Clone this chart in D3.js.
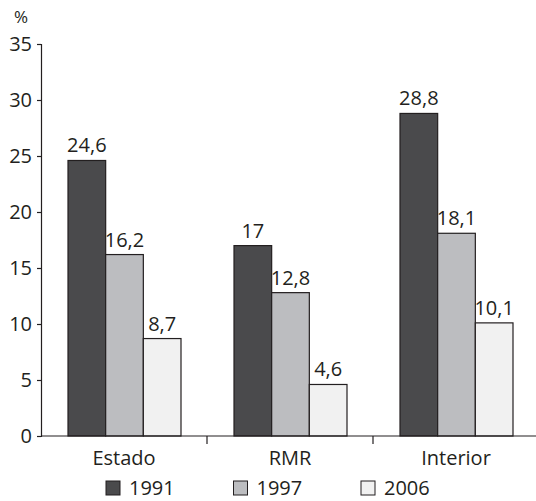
<!doctype html>
<html>
<head>
  <meta charset="utf-8">
  <title>bar chart</title>
  <style>
    body { margin: 0; background: #fff; }
    svg text { font-family: "Open Sans", "Noto Sans", sans-serif; fill: #231f20; }
  </style>
</head>
<body>
  <div id="chart"></div>
  <script src="https://d3js.org/d3.v7.min.js"></script>
  <script>
    const categories = ['Estado', 'RMR', 'Interior'];
    const years = ['1991', '1997', '2006'];
    const v1991 = [24.6, 17, 28.8];
    const v1997 = [16.2, 12.8, 18.1];
    const v2006 = [8.7, 4.6, 10.1];
    const yTicks = [0, 5, 10, 15, 20, 25, 30, 35];
    const colors = ['#4a4a4c', '#bcbdc0', '#f1f1f1'];

    const width = 536, height = 501;
    const svg = d3.select('#chart').append('svg')
      .attr('width', width).attr('height', height);

    const series = [v1991, v1997, v2006];

    const x0 = d3.scaleBand().domain(categories).range([41, 539]).padding(0);
    const x1 = d3.scaleBand().domain(years).range([27, 140]).padding(0);
    const y = d3.scaleLinear().domain([0, 35]).range([436, 44]);

    // y axis
    const yAxis = svg.append('g').attr('transform', 'translate(41,0)')
      .call(d3.axisLeft(y).tickValues(yTicks).tickSize(4).tickPadding(5));
    yAxis.selectAll('path, line').attr('stroke', '#231f20').attr('stroke-width', 1.2);
    yAxis.selectAll('text').attr('font-size', 20).attr('fill', '#231f20')
      .attr('font-family', '"Open Sans", sans-serif');

    svg.append('text').attr('x', 14).attr('y', 23).attr('font-size', 17).text('%');

    // groups
    const groups = svg.selectAll('g.grp').data(categories).join('g')
      .attr('class', 'grp')
      .attr('transform', d => `translate(${x0(d)},0)`);

    groups.selectAll('rect').data((c, i) => years.map((yr, k) => ({ yr, k, v: series[k][i] })))
      .join('rect')
      .attr('x', d => x1(d.yr))
      .attr('y', d => y(d.v))
      .attr('width', x1.bandwidth())
      .attr('height', d => y(0) - y(d.v))
      .attr('fill', d => colors[d.k])
      .attr('stroke', '#231f20')
      .attr('stroke-width', 1.2);

    groups.selectAll('text.val').data((c, i) => years.map((yr, k) => ({ yr, k, v: series[k][i] })))
      .join('text')
      .attr('class', 'val')
      .attr('x', d => x1(d.yr) + x1.bandwidth() / 2)
      .attr('y', d => y(d.v) - 8)
      .attr('text-anchor', 'middle')
      .attr('font-size', 20)
      .text(d => String(d.v).replace('.', ','));

    // x axis
    const xAxis = svg.append('g').attr('transform', 'translate(0,436)')
      .call(d3.axisBottom(x0).tickSize(0).tickPadding(15));
    xAxis.select('.domain').remove();
    xAxis.selectAll('text').attr('font-size', 20).attr('fill', '#231f20')
      .attr('font-family', '"Open Sans", sans-serif');
    svg.append('line').attr('x1', 41).attr('x2', width).attr('y1', 436).attr('y2', 436)
      .attr('stroke', '#231f20').attr('stroke-width', 1.2);
    svg.selectAll('line.sep').data(categories.slice(1)).join('line')
      .attr('class', 'sep')
      .attr('x1', d => x0(d)).attr('x2', d => x0(d))
      .attr('y1', 436).attr('y2', 444)
      .attr('stroke', '#231f20').attr('stroke-width', 1.2);

    // legend
    const legendX = d3.scalePoint().domain(years).range([106, 361]);
    const leg = svg.selectAll('g.leg').data(years).join('g')
      .attr('class', 'leg')
      .attr('transform', d => `translate(${legendX(d)},481)`);
    leg.append('rect').attr('width', 14).attr('height', 14)
      .attr('fill', (d, i) => colors[i]).attr('stroke', '#231f20').attr('stroke-width', 1);
    leg.append('text').attr('x', 23).attr('y', 14).attr('font-size', 20).text(d => d);
  </script>
</body>
</html>
